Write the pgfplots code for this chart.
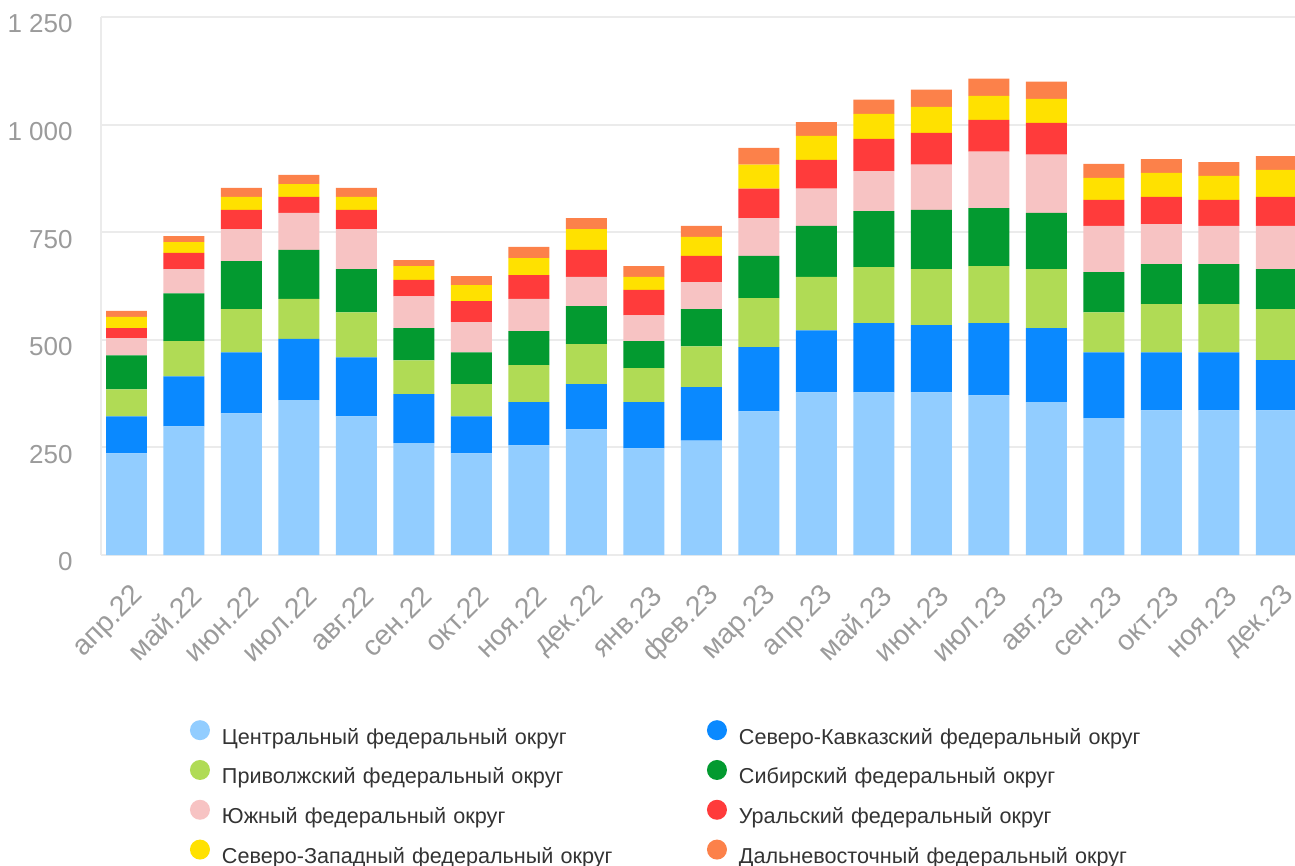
\documentclass[border=0pt]{standalone}
\usepackage{fontspec}
\setmainfont{Liberation Sans}
\usepackage{pgfplots}
\usepackage{pgfplotstable}
\pgfplotsset{compat=1.18}
\definecolor{cC}{HTML}{92CDFF}
\definecolor{cNK}{HTML}{0A89FF}
\definecolor{cPV}{HTML}{B0DB55}
\definecolor{cSB}{HTML}{039A30}
\definecolor{cSU}{HTML}{F7C3C3}
\definecolor{cUR}{HTML}{FF3B3B}
\definecolor{cNW}{HTML}{FFE100}
\definecolor{cDV}{HTML}{FC814A}
\definecolor{gridc}{HTML}{EBEBEB}
\definecolor{tickc}{HTML}{9B9B9B}
\definecolor{legc}{HTML}{333333}
\pgfplotsset{circleg/.style={legend image code/.code={\fill[##1,draw=none] (5bp,4bp) circle (5bp);}}}

\pgfplotstableread{
x C NK PV SB SU UR NW DV
0 236 86 63 79 40 23 26 14
1 299 116 82 111 56 38 25 14
2 329 142 100 112 74 45 30 21
3 360 142 93 114 86 37 30 21
4 322 137 105 100 93 45 30 21
5 260 114 78 75 74 38 32 14
6 236 86 75 74 70 49 37 21
7 255 100 86 79 75 55 40 26
8 292 105 93 88 68 63 48 26
9 248 107 79 63 60 59 30 25
10 266 124 95 86 63 61 44 26
11 334 149 114 98 88 68 56 39
12 378 144 124 119 86 67 56 32
13 378 161 130 130 93 75 58 33
14 378 156 130 138 105 74 60 40
15 371 168 132 135 131 74 56 40
16 355 172 137 131 135 74 56 40
17 318 153 93 93 108 60 51 33
18 336 135 112 93 93 63 56 32
19 336 135 112 93 89 60 56 32
20 336 117 118 93 101 67 63 32
}\data

\begin{document}
\begin{tikzpicture}
\useasboundingbox (0,0) rectangle (647.5bp,-433bp);
\clip (0,0) rectangle (647.5bp,-433bp);
\begin{axis}[
  at={(50.5bp,-277.5bp)}, anchor=south west,
  scale only axis, width=599.5bp, height=269bp,
  ybar stacked, bar width=0.713,
  every axis plot post/.append style={circleg},
  xmin=-0.4435, xmax=20.41, ymin=0, ymax=1250,
  enlargelimits=false,
  axis x line*=bottom, axis y line*=left,
  axis line style={draw=gridc, line width=1bp, -},
  ymajorgrids, grid style={draw=gridc, line width=1bp},
  major tick length=0pt,
  ytick={0,250,500,750,1000,1250},
  yticklabels={0,250,500,750,{1 000},{1 250}},
  xtick={0,...,20},
  xticklabels={апр.22,май.22,июн.22,июл.22,авг.22,сен.22,окт.22,ноя.22,дек.22,янв.23,фев.23,мар.23,апр.23,май.23,июн.23,июл.23,авг.23,сен.23,окт.23,ноя.23,дек.23},
  yticklabel style={anchor=east, inner sep=0pt, xshift=-14bp, yshift=-3.5bp, font=\fontsize{13bp}{15bp}\selectfont, text=tickc},
  xticklabel style={xshift=6.5bp, yshift=-18bp, rotate=45, anchor=east, inner sep=0pt, font=\fontsize{14.2bp}{16bp}\selectfont, text=tickc},
  legend columns=2,
  legend cell align=left,
  legend style={at={(rel axis cs:0.0742,-0.3070)}, anchor=north west, draw=none, fill=none,
    inner sep=0pt, outer sep=0pt, row sep=4.9bp,
    font=\fontsize{10.8bp}{13bp}\selectfont, text=legc,
    nodes={inner sep=0pt, text width=242.5bp, text height=9bp, text depth=3bp, align=left},
    /tikz/every odd column/.append style={column sep=6bp},
    /tikz/every even column/.append style={column sep=0bp}},
]
\addplot[fill=cC, draw=none] table[x=x,y=C]{\data};
\addlegendentry{Центральный федеральный округ}
\addplot[fill=cNK, draw=none] table[x=x,y=NK]{\data};
\addlegendentry{Северо-Кавказский федеральный округ}
\addplot[fill=cPV, draw=none] table[x=x,y=PV]{\data};
\addlegendentry{Приволжский федеральный округ}
\addplot[fill=cSB, draw=none] table[x=x,y=SB]{\data};
\addlegendentry{Сибирский федеральный округ}
\addplot[fill=cSU, draw=none] table[x=x,y=SU]{\data};
\addlegendentry{Южный федеральный округ}
\addplot[fill=cUR, draw=none] table[x=x,y=UR]{\data};
\addlegendentry{Уральский федеральный округ}
\addplot[fill=cNW, draw=none] table[x=x,y=NW]{\data};
\addlegendentry{Северо-Западный федеральный округ}
\addplot[fill=cDV, draw=none] table[x=x,y=DV]{\data};
\addlegendentry{Дальневосточный федеральный округ}
\end{axis}
\end{tikzpicture}
\end{document}
